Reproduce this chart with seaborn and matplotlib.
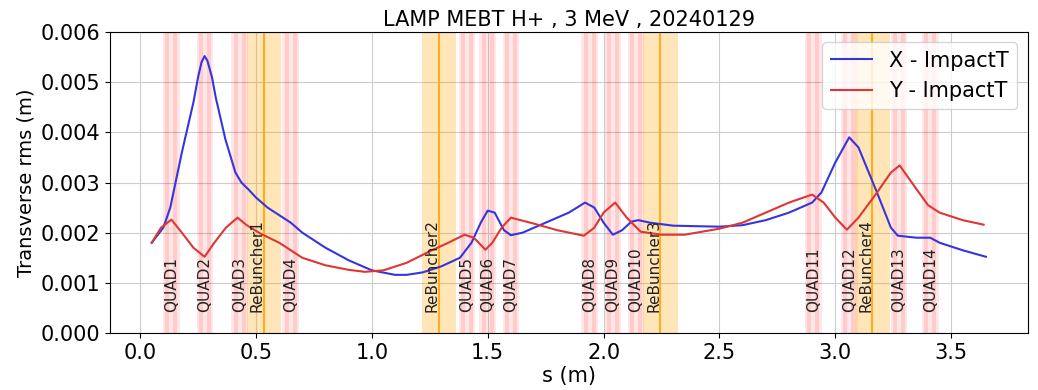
import matplotlib
matplotlib.use("Agg")
import matplotlib.pyplot as plt
import seaborn as sns
import pandas as pd

# ---- data ----
s_x = [0.05, 0.10, 0.13, 0.18, 0.23, 0.25, 0.265, 0.278, 0.29, 0.31, 0.326, 0.368, 0.411,
       0.437, 0.47, 0.50, 0.55, 0.60, 0.65, 0.70, 0.80, 0.90, 1.00, 1.10, 1.15, 1.22, 1.30,
       1.38, 1.43, 1.47, 1.50, 1.53, 1.57, 1.60, 1.65, 1.75, 1.85, 1.92, 1.96, 2.00, 2.04,
       2.08, 2.12, 2.15, 2.20, 2.30, 2.50, 2.60, 2.70, 2.80, 2.90, 2.94, 3.00, 3.06, 3.10,
       3.18, 3.24, 3.27, 3.35, 3.41, 3.45, 3.55, 3.65]
rms_x = [0.0018, 0.0021, 0.0025, 0.0036, 0.0046, 0.0051, 0.0054, 0.00552, 0.00543, 0.0051,
         0.0047, 0.00386, 0.0032, 0.0030, 0.00285, 0.0027, 0.0025, 0.00235, 0.0022, 0.0020,
         0.0017, 0.00145, 0.00125, 0.00116, 0.00116, 0.00121, 0.00133, 0.0015, 0.0018, 0.0022,
         0.00244, 0.0024, 0.00205, 0.00195, 0.0020, 0.0022, 0.0024, 0.0026, 0.0025, 0.0022,
         0.00196, 0.00205, 0.00222, 0.00225, 0.0022, 0.00214, 0.00212, 0.00215, 0.00225,
         0.0024, 0.0026, 0.0028, 0.0034, 0.0039, 0.0037, 0.0028, 0.0021, 0.00194, 0.0019,
         0.0019, 0.0018, 0.00165, 0.00152]

s_y = [0.05, 0.09, 0.135, 0.18, 0.23, 0.278, 0.32, 0.37, 0.42, 0.46, 0.52, 0.60, 0.70, 0.80,
       0.90, 0.97, 1.05, 1.15, 1.25, 1.33, 1.40, 1.44, 1.49, 1.52, 1.56, 1.60, 1.70, 1.80,
       1.915, 1.96, 2.00, 2.05, 2.10, 2.16, 2.25, 2.35, 2.50, 2.60, 2.70, 2.80, 2.90, 2.95,
       3.00, 3.05, 3.10, 3.18, 3.24, 3.278, 3.33, 3.40, 3.45, 3.55, 3.64]
rms_y = [0.0018, 0.0021, 0.00226, 0.0020, 0.0017, 0.00152, 0.0018, 0.0021, 0.0023, 0.00215,
         0.00198, 0.0018, 0.0015, 0.00135, 0.00126, 0.00122, 0.00125, 0.0014, 0.00163, 0.0018,
         0.00196, 0.0019, 0.00166, 0.0018, 0.0021, 0.0023, 0.00218, 0.00205, 0.00194, 0.0021,
         0.0024, 0.0026, 0.0023, 0.00202, 0.00196, 0.00196, 0.00208, 0.0022, 0.0024, 0.0026,
         0.00276, 0.0026, 0.0023, 0.00206, 0.0023, 0.0028, 0.0032, 0.00334, 0.0030, 0.00255,
         0.0024, 0.00225, 0.00216]

quad_names = ["QUAD1", "QUAD2", "QUAD3", "QUAD4", "QUAD5", "QUAD6", "QUAD7", "QUAD8",
              "QUAD9", "QUAD10", "QUAD11", "QUAD12", "QUAD13", "QUAD14"]
quad_pos = [0.135, 0.28, 0.43, 0.65, 1.41, 1.50, 1.60, 1.94, 2.04, 2.14, 2.905, 3.06, 3.275, 3.41]

reb_names = ["ReBuncher1", "ReBuncher2", "ReBuncher3", "ReBuncher4"]
reb_pos = [0.535, 1.29, 2.245, 3.16]

title = "LAMP MEBT H+ , 3 MeV , 20240129"

# ---- plot ----
fig = plt.figure(figsize=(10.38, 3.9), dpi=100)
ax = fig.add_axes([0.106, 0.146, 0.884, 0.772])

for p in quad_pos:
    ax.axvspan(p - 0.036, p + 0.036, color="red", alpha=0.09, lw=0)
    ax.axvline(p - 0.017, color="red", alpha=0.12, lw=3)
    ax.axvline(p + 0.017, color="red", alpha=0.12, lw=3)
for p in reb_pos:
    ax.axvspan(p - 0.075, p + 0.075, color="orange", alpha=0.28, lw=0)
    ax.axvline(p, color="orange", alpha=0.85, lw=1.5)

dfx = pd.DataFrame({"s": s_x, "rms": rms_x})
dfy = pd.DataFrame({"s": s_y, "rms": rms_y})
sns.lineplot(data=dfx, x="s", y="rms", ax=ax, color="#3535e0", lw=1.5, label="X - ImpactT")
sns.lineplot(data=dfy, x="s", y="rms", ax=ax, color="#e03535", lw=1.5, label="Y - ImpactT")

for n, p in zip(quad_names, quad_pos):
    ax.text(p, 0.00042, n, rotation=90, ha="center", va="bottom", fontsize=11, color="#222222")
for n, p in zip(reb_names, reb_pos):
    ax.text(p + 0.003, 0.00042, n, rotation=90, ha="right", va="bottom", fontsize=11, color="#222222")

ax.set_xlim(-0.13, 3.83)
ax.set_ylim(0, 0.006)
ax.set_yticks([0, 0.001, 0.002, 0.003, 0.004, 0.005, 0.006])
ax.set_yticklabels(["0.000", "0.001", "0.002", "0.003", "0.004", "0.005", "0.006"])
ax.grid(True, color="#cccccc", lw=0.8)
ax.set_axisbelow(True)
ax.tick_params(labelsize=15)
ax.set_xlabel("s (m)", fontsize=15, labelpad=2)
ax.set_ylabel("Transverse rms (m)", fontsize=14)
ax.set_title(title, fontsize=15, pad=4)
ax.legend(loc="upper right", fontsize=15, framealpha=0.8)

fig.savefig("out.png", dpi=100)
